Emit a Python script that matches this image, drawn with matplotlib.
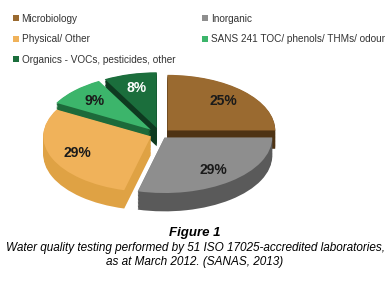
import numpy as np
import matplotlib
matplotlib.use('Agg')
import matplotlib.pyplot as plt

# data
labels = ['Microbiology', 'Inorganic', 'Physical/ Other',
          'SANS 241 TOC/ phenols/ THMs/ odour',
          'Organics - VOCs, pesticides, other']
values = [25, 29, 29, 9, 8]
top_colors = ['#9a6a30', '#8e8e8e', '#f0b25a', '#3cb56b', '#1b6e3c']
side_colors = ['#4e3314', '#5a5a5a', '#dfa244', '#1d6a3a', '#0e3a20']
pct_colors = ['#1a1a1a', '#1a1a1a', '#1a1a1a', '#1a1a1a', 'white']
explode = [0.1, 0.07, 0.09, 0.12, 0.12]

plt.rcParams['font.family'] = ['Liberation Sans', 'DejaVu Sans']

fig = plt.figure(figsize=(3.9, 2.81), dpi=100)
ax = fig.add_axes([0.051, 0.235, 0.718, 0.544])

depth = 0.33
# extruded side: stack of darker pies shifted down
for d in np.linspace(depth, 0.01, 14):
    ax.pie(values, colors=side_colors, startangle=90, counterclock=False,
           explode=explode, center=(0, -d), frame=True,
           wedgeprops=dict(linewidth=0))

wedges, texts, autotexts = ax.pie(
    values, colors=top_colors, startangle=90, counterclock=False,
    explode=explode, center=(0, 0), frame=True, autopct='%1.0f%%',
    pctdistance=0.74, wedgeprops=dict(linewidth=0),
    textprops=dict(fontsize=10, fontweight='bold'))
for t, c in zip(autotexts, pct_colors):
    t.set_color(c)

ax.set_aspect('auto')
ax.set_xlim(-1.3, 1.3)
ax.set_ylim(-1.45, 1.3)
ax.axis('off')

order = [0, 2, 4, 1, 3]
fig.legend([wedges[i] for i in order], [labels[i] for i in order],
           loc='upper left', bbox_to_anchor=(0.022, 0.965), ncol=2,
           frameon=False, fontsize=7.2, handlelength=0.6, handleheight=0.6,
           handletextpad=0.3, labelspacing=1.05, columnspacing=2.7,
           borderaxespad=0, labelcolor='#333333')

fig.text(0.5, 0.171, 'Figure 1', ha='center', va='center', fontsize=9.5,
         fontweight='bold', style='italic')
fig.text(0.5, 0.117, 'Water quality testing performed by 51 ISO 17025-accredited laboratories,',
         ha='center', va='center', fontsize=8.5, style='italic')
fig.text(0.5, 0.068, 'as at March 2012. (SANAS, 2013)',
         ha='center', va='center', fontsize=8.5, style='italic')

fig.savefig('out.png', dpi=100)
